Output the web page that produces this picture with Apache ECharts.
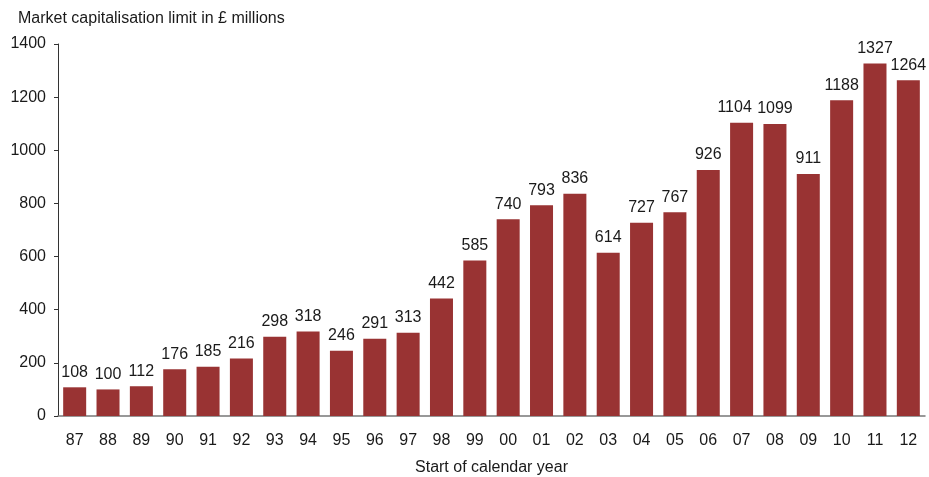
<!DOCTYPE html>
<html><head><meta charset="utf-8">
<script src="https://cdn.jsdelivr.net/npm/echarts@6/dist/echarts.min.js"></script>
<style>html,body{margin:0;padding:0;background:#fff}#c{width:929px;height:477px}</style>
</head><body><div id="c"></div>
<script>
const categories = ['87','88','89','90','91','92','93','94','95','96','97','98','99','00','01','02','03','04','05','06','07','08','09','10','11','12'];
const values = [108,100,112,176,185,216,298,318,246,291,313,442,585,740,793,836,614,727,767,926,1104,1099,911,1188,1327,1264];
const yTitle = 'Market capitalisation limit in £ millions';
const xTitle = 'Start of calendar year';
const font = 'Liberation Sans, Arial, Helvetica, sans-serif';
const chart = echarts.init(document.getElementById('c'), null, {renderer:'canvas'});
const barData = values.map((v,i)=> categories[i]==='07' ? {value:v,label:{offset:[-7,0]}} : v);
chart.setOption({
  animation:false,
  textStyle:{fontFamily:font},
  title:{text:yTitle,left:13,top:6,textStyle:{fontFamily:font,fontSize:16,fontWeight:'normal',color:'#1a1a1a'}},
  grid:{left:58,right:4,top:44,bottom:61,containLabel:false,outerBoundsMode:'none'},
  xAxis:{type:'category',data:categories,name:xTitle,nameLocation:'middle',nameGap:44,
    nameTextStyle:{fontFamily:font,fontSize:16,color:'#1a1a1a'},
    axisLine:{lineStyle:{color:'#777',width:1.5}},axisTick:{show:false},
    axisLabel:{fontFamily:font,fontSize:16,color:'#1a1a1a',margin:17}},
  yAxis:{type:'value',min:0,max:1400,interval:200,
    axisLine:{show:true,lineStyle:{color:'#333',width:1}},
    axisTick:{show:true,length:4,lineStyle:{color:'#333'}},
    splitLine:{show:false},
    axisLabel:{fontFamily:font,fontSize:16,color:'#1a1a1a',margin:12,formatter:v=>String(v)}},
  series:[{type:'bar',data:barData,barCategoryGap:'31%',
    itemStyle:{color:'#993333'},
    label:{show:true,position:'top',distance:7,fontFamily:font,fontSize:16,color:'#1a1a1a'}}]
});
</script></body></html>
